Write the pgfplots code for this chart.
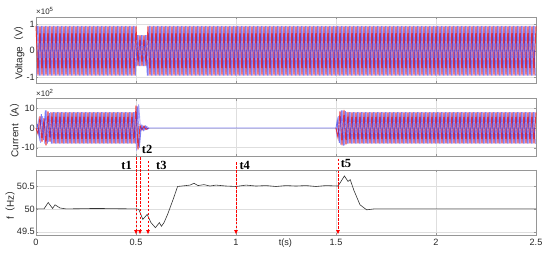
\documentclass[border=0pt]{standalone}
\usepackage{fontspec}
\setmainfont{Liberation Sans}
\newfontfamily\cjk{Noto Sans CJK SC}
\newfontfamily\tnr{Liberation Serif}
\usepackage{pgfplots}
\pgfplotsset{compat=1.18}
\usetikzlibrary{arrows.meta}

\definecolor{phA}{RGB}{235,35,35}
\definecolor{phB}{RGB}{40,40,235}
\definecolor{phC}{RGB}{155,145,245}
\definecolor{gridgray}{RGB}{222,222,222}
\definecolor{boxgray}{RGB}{150,150,150}
\definecolor{ticktext}{RGB}{40,40,40}

\pgfplotsset{
  wave/.style={
    scale only axis, width=500bp, xmin=0, xmax=2.5,
    xtick={0,0.5,1,1.5,2,2.5},
    xmajorgrids, ymajorgrids,
    grid style={gridgray, line width=0.5pt},
    axis line style={boxgray, line width=0.6pt},
    tick style={boxgray}, tick align=inside, major tick length=2.5pt,
    tick label style={font=\fontsize{9.2}{10}\selectfont, text=ticktext},
    /pgf/number format/assume math mode=true,
    yticklabel style={inner sep=1pt},
    xticklabel style={inner sep=4pt},
    ylabel style={font=\fontsize{10}{12}\selectfont, text=ticktext, inner sep=1pt},
    clip=false,
  },
  phc/.style={line width=0.9pt, opacity=0.85, phC},
  pha/.style={line width=0.9pt, opacity=0.9, phA},
  phb/.style={line width=0.9pt, opacity=0.6, phB},
}
\tikzset{
  tarrow/.style={draw=red, color=red, dash pattern=on 2.5pt off 1.5pt, line width=0.9pt, -{Latex[length=4.5bp,width=4bp]}},
  tlab/.style={inner sep=1pt, font=\tnr\bfseries\fontsize{12.5}{14}\selectfont},
}

\begin{document}
\begin{tikzpicture}
\path[use as bounding box] (0,0) rectangle (550bp,254bp);

% voltage
\begin{axis}[wave, at={(36bp,171bp)}, anchor=south west, height=66bp,
  ymin=-1.21, ymax=1.26, ytick={-1,0,1}, xticklabels={},
  ylabel={Voltage{\cjk （}V{\cjk ）}}]
\addplot[phc] coordinates {
(.0033,-.93)(.0133,.93)(.0233,-.93)(.0333,.93)(.0433,-.93)(.0533,.93)(.0633,-.93)(.0733,.93)(.0833,-.93)(.0933,.93)
(.1033,-.93)(.1133,.93)(.1233,-.93)(.1333,.93)(.1433,-.93)(.1533,.93)(.1633,-.93)(.1733,.93)(.1833,-.93)(.1933,.93)
(.2033,-.93)(.2133,.93)(.2233,-.93)(.2333,.93)(.2433,-.93)(.2533,.93)(.2633,-.93)(.2733,.93)(.2833,-.93)(.2933,.93)
(.3033,-.93)(.3133,.93)(.3233,-.93)(.3333,.93)(.3433,-.93)(.3533,.93)(.3633,-.93)(.3733,.93)(.3833,-.93)(.3933,.93)
(.4033,-.93)(.4133,.93)(.4233,-.93)(.4333,.93)(.4433,-.93)(.4533,.93)(.4633,-.93)(.4733,.93)(.4833,-.93)(.4933,.93)
(.5033,-.58)(.5133,.58)(.5233,-.58)(.5333,.58)(.5433,-.58)(.5533,.58)(.5633,-.93)(.5733,.93)(.5833,-.93)(.5933,.93)
(.6033,-.93)(.6133,.93)(.6233,-.93)(.6333,.93)(.6433,-.93)(.6533,.93)(.6633,-.93)(.6733,.93)(.6833,-.93)(.6933,.93)
(.7033,-.93)(.7133,.93)(.7233,-.93)(.7333,.93)(.7433,-.93)(.7533,.93)(.7633,-.93)(.7733,.93)(.7833,-.93)(.7933,.93)
(.8033,-.93)(.8133,.93)(.8233,-.93)(.8333,.93)(.8433,-.93)(.8533,.93)(.8633,-.93)(.8733,.93)(.8833,-.93)(.8933,.93)
(.9033,-.93)(.9133,.93)(.9233,-.93)(.9333,.93)(.9433,-.93)(.9533,.93)(.9633,-.93)(.9733,.93)(.9833,-.93)(.9933,.93)
(1.0033,-.93)(1.0133,.93)(1.0233,-.93)(1.0333,.93)(1.0433,-.93)(1.0533,.93)(1.0633,-.93)(1.0733,.93)(1.0833,-.93)(1.0933,.93)
(1.1033,-.93)(1.1133,.93)(1.1233,-.93)(1.1333,.93)(1.1433,-.93)(1.1533,.93)(1.1633,-.93)(1.1733,.93)(1.1833,-.93)(1.1933,.93)
(1.2033,-.93)(1.2133,.93)(1.2233,-.93)(1.2333,.93)(1.2433,-.93)(1.2533,.93)(1.2633,-.93)(1.2733,.93)(1.2833,-.93)(1.2933,.93)
(1.3033,-.93)(1.3133,.93)(1.3233,-.93)(1.3333,.93)(1.3433,-.93)(1.3533,.93)(1.3633,-.93)(1.3733,.93)(1.3833,-.93)(1.3933,.93)
(1.4033,-.93)(1.4133,.93)(1.4233,-.93)(1.4333,.93)(1.4433,-.93)(1.4533,.93)(1.4633,-.93)(1.4733,.93)(1.4833,-.93)(1.4933,.93)
(1.5033,-.93)(1.5133,.93)(1.5233,-.93)(1.5333,.93)(1.5433,-.93)(1.5533,.93)(1.5633,-.93)(1.5733,.93)(1.5833,-.93)(1.5933,.93)
(1.6033,-.93)(1.6133,.93)(1.6233,-.93)(1.6333,.93)(1.6433,-.93)(1.6533,.93)(1.6633,-.93)(1.6733,.93)(1.6833,-.93)(1.6933,.93)
(1.7033,-.93)(1.7133,.93)(1.7233,-.93)(1.7333,.93)(1.7433,-.93)(1.7533,.93)(1.7633,-.93)(1.7733,.93)(1.7833,-.93)(1.7933,.93)
(1.8033,-.93)(1.8133,.93)(1.8233,-.93)(1.8333,.93)(1.8433,-.93)(1.8533,.93)(1.8633,-.93)(1.8733,.93)(1.8833,-.93)(1.8933,.93)
(1.9033,-.93)(1.9133,.93)(1.9233,-.93)(1.9333,.93)(1.9433,-.93)(1.9533,.93)(1.9633,-.93)(1.9733,.93)(1.9833,-.93)(1.9933,.93)
(2.0033,-.93)(2.0133,.93)(2.0233,-.93)(2.0333,.93)(2.0433,-.93)(2.0533,.93)(2.0633,-.93)(2.0733,.93)(2.0833,-.93)(2.0933,.93)
(2.1033,-.93)(2.1133,.93)(2.1233,-.93)(2.1333,.93)(2.1433,-.93)(2.1533,.93)(2.1633,-.93)(2.1733,.93)(2.1833,-.93)(2.1933,.93)
(2.2033,-.93)(2.2133,.93)(2.2233,-.93)(2.2333,.93)(2.2433,-.93)(2.2533,.93)(2.2633,-.93)(2.2733,.93)(2.2833,-.93)(2.2933,.93)
(2.3033,-.93)(2.3133,.93)(2.3233,-.93)(2.3333,.93)(2.3433,-.93)(2.3533,.93)(2.3633,-.93)(2.3733,.93)(2.3833,-.93)(2.3933,.93)
(2.4033,-.93)(2.4133,.93)(2.4233,-.93)(2.4333,.93)(2.4433,-.93)(2.4533,.93)(2.4633,-.93)(2.4733,.93)(2.4833,-.93)(2.4933,.93)
};
\addplot[pha] coordinates {
(0,.93)(.01,-.93)(.02,.93)(.03,-.93)(.04,.93)(.05,-.93)(.06,.93)(.07,-.93)(.08,.93)(.09,-.93)
(.1,.93)(.11,-.93)(.12,.93)(.13,-.93)(.14,.93)(.15,-.93)(.16,.93)(.17,-.93)(.18,.93)(.19,-.93)
(.2,.93)(.21,-.93)(.22,.93)(.23,-.93)(.24,.93)(.25,-.93)(.26,.93)(.27,-.93)(.28,.93)(.29,-.93)
(.3,.93)(.31,-.93)(.32,.93)(.33,-.93)(.34,.93)(.35,-.93)(.36,.93)(.37,-.93)(.38,.93)(.39,-.93)
(.4,.93)(.41,-.93)(.42,.93)(.43,-.93)(.44,.93)(.45,-.93)(.46,.93)(.47,-.93)(.48,.93)(.49,-.93)
(.5,.93)(.51,-.58)(.52,.58)(.53,-.58)(.54,.58)(.55,-.58)(.56,.93)(.57,-.93)(.58,.93)(.59,-.93)
(.6,.93)(.61,-.93)(.62,.93)(.63,-.93)(.64,.93)(.65,-.93)(.66,.93)(.67,-.93)(.68,.93)(.69,-.93)
(.7,.93)(.71,-.93)(.72,.93)(.73,-.93)(.74,.93)(.75,-.93)(.76,.93)(.77,-.93)(.78,.93)(.79,-.93)
(.8,.93)(.81,-.93)(.82,.93)(.83,-.93)(.84,.93)(.85,-.93)(.86,.93)(.87,-.93)(.88,.93)(.89,-.93)
(.9,.93)(.91,-.93)(.92,.93)(.93,-.93)(.94,.93)(.95,-.93)(.96,.93)(.97,-.93)(.98,.93)(.99,-.93)
(1,.93)(1.01,-.93)(1.02,.93)(1.03,-.93)(1.04,.93)(1.05,-.93)(1.06,.93)(1.07,-.93)(1.08,.93)(1.09,-.93)
(1.1,.93)(1.11,-.93)(1.12,.93)(1.13,-.93)(1.14,.93)(1.15,-.93)(1.16,.93)(1.17,-.93)(1.18,.93)(1.19,-.93)
(1.2,.93)(1.21,-.93)(1.22,.93)(1.23,-.93)(1.24,.93)(1.25,-.93)(1.26,.93)(1.27,-.93)(1.28,.93)(1.29,-.93)
(1.3,.93)(1.31,-.93)(1.32,.93)(1.33,-.93)(1.34,.93)(1.35,-.93)(1.36,.93)(1.37,-.93)(1.38,.93)(1.39,-.93)
(1.4,.93)(1.41,-.93)(1.42,.93)(1.43,-.93)(1.44,.93)(1.45,-.93)(1.46,.93)(1.47,-.93)(1.48,.93)(1.49,-.93)
(1.5,.93)(1.51,-.93)(1.52,.93)(1.53,-.93)(1.54,.93)(1.55,-.93)(1.56,.93)(1.57,-.93)(1.58,.93)(1.59,-.93)
(1.6,.93)(1.61,-.93)(1.62,.93)(1.63,-.93)(1.64,.93)(1.65,-.93)(1.66,.93)(1.67,-.93)(1.68,.93)(1.69,-.93)
(1.7,.93)(1.71,-.93)(1.72,.93)(1.73,-.93)(1.74,.93)(1.75,-.93)(1.76,.93)(1.77,-.93)(1.78,.93)(1.79,-.93)
(1.8,.93)(1.81,-.93)(1.82,.93)(1.83,-.93)(1.84,.93)(1.85,-.93)(1.86,.93)(1.87,-.93)(1.88,.93)(1.89,-.93)
(1.9,.93)(1.91,-.93)(1.92,.93)(1.93,-.93)(1.94,.93)(1.95,-.93)(1.96,.93)(1.97,-.93)(1.98,.93)(1.99,-.93)
(2,.93)(2.01,-.93)(2.02,.93)(2.03,-.93)(2.04,.93)(2.05,-.93)(2.06,.93)(2.07,-.93)(2.08,.93)(2.09,-.93)
(2.1,.93)(2.11,-.93)(2.12,.93)(2.13,-.93)(2.14,.93)(2.15,-.93)(2.16,.93)(2.17,-.93)(2.18,.93)(2.19,-.93)
(2.2,.93)(2.21,-.93)(2.22,.93)(2.23,-.93)(2.24,.93)(2.25,-.93)(2.26,.93)(2.27,-.93)(2.28,.93)(2.29,-.93)
(2.3,.93)(2.31,-.93)(2.32,.93)(2.33,-.93)(2.34,.93)(2.35,-.93)(2.36,.93)(2.37,-.93)(2.38,.93)(2.39,-.93)
(2.4,.93)(2.41,-.93)(2.42,.93)(2.43,-.93)(2.44,.93)(2.45,-.93)(2.46,.93)(2.47,-.93)(2.48,.93)(2.49,-.93)
(2.5,.93)
};
\addplot[phb] coordinates {
(.0067,.93)(.0167,-.93)(.0267,.93)(.0367,-.93)(.0467,.93)(.0567,-.93)(.0667,.93)(.0767,-.93)(.0867,.93)(.0967,-.93)
(.1067,.93)(.1167,-.93)(.1267,.93)(.1367,-.93)(.1467,.93)(.1567,-.93)(.1667,.93)(.1767,-.93)(.1867,.93)(.1967,-.93)
(.2067,.93)(.2167,-.93)(.2267,.93)(.2367,-.93)(.2467,.93)(.2567,-.93)(.2667,.93)(.2767,-.93)(.2867,.93)(.2967,-.93)
(.3067,.93)(.3167,-.93)(.3267,.93)(.3367,-.93)(.3467,.93)(.3567,-.93)(.3667,.93)(.3767,-.93)(.3867,.93)(.3967,-.93)
(.4067,.93)(.4167,-.93)(.4267,.93)(.4367,-.93)(.4467,.93)(.4567,-.93)(.4667,.93)(.4767,-.93)(.4867,.93)(.4967,-.93)
(.5067,.58)(.5167,-.58)(.5267,.58)(.5367,-.58)(.5467,.58)(.5567,-.93)(.5667,.93)(.5767,-.93)(.5867,.93)(.5967,-.93)
(.6067,.93)(.6167,-.93)(.6267,.93)(.6367,-.93)(.6467,.93)(.6567,-.93)(.6667,.93)(.6767,-.93)(.6867,.93)(.6967,-.93)
(.7067,.93)(.7167,-.93)(.7267,.93)(.7367,-.93)(.7467,.93)(.7567,-.93)(.7667,.93)(.7767,-.93)(.7867,.93)(.7967,-.93)
(.8067,.93)(.8167,-.93)(.8267,.93)(.8367,-.93)(.8467,.93)(.8567,-.93)(.8667,.93)(.8767,-.93)(.8867,.93)(.8967,-.93)
(.9067,.93)(.9167,-.93)(.9267,.93)(.9367,-.93)(.9467,.93)(.9567,-.93)(.9667,.93)(.9767,-.93)(.9867,.93)(.9967,-.93)
(1.0067,.93)(1.0167,-.93)(1.0267,.93)(1.0367,-.93)(1.0467,.93)(1.0567,-.93)(1.0667,.93)(1.0767,-.93)(1.0867,.93)(1.0967,-.93)
(1.1067,.93)(1.1167,-.93)(1.1267,.93)(1.1367,-.93)(1.1467,.93)(1.1567,-.93)(1.1667,.93)(1.1767,-.93)(1.1867,.93)(1.1967,-.93)
(1.2067,.93)(1.2167,-.93)(1.2267,.93)(1.2367,-.93)(1.2467,.93)(1.2567,-.93)(1.2667,.93)(1.2767,-.93)(1.2867,.93)(1.2967,-.93)
(1.3067,.93)(1.3167,-.93)(1.3267,.93)(1.3367,-.93)(1.3467,.93)(1.3567,-.93)(1.3667,.93)(1.3767,-.93)(1.3867,.93)(1.3967,-.93)
(1.4067,.93)(1.4167,-.93)(1.4267,.93)(1.4367,-.93)(1.4467,.93)(1.4567,-.93)(1.4667,.93)(1.4767,-.93)(1.4867,.93)(1.4967,-.93)
(1.5067,.93)(1.5167,-.93)(1.5267,.93)(1.5367,-.93)(1.5467,.93)(1.5567,-.93)(1.5667,.93)(1.5767,-.93)(1.5867,.93)(1.5967,-.93)
(1.6067,.93)(1.6167,-.93)(1.6267,.93)(1.6367,-.93)(1.6467,.93)(1.6567,-.93)(1.6667,.93)(1.6767,-.93)(1.6867,.93)(1.6967,-.93)
(1.7067,.93)(1.7167,-.93)(1.7267,.93)(1.7367,-.93)(1.7467,.93)(1.7567,-.93)(1.7667,.93)(1.7767,-.93)(1.7867,.93)(1.7967,-.93)
(1.8067,.93)(1.8167,-.93)(1.8267,.93)(1.8367,-.93)(1.8467,.93)(1.8567,-.93)(1.8667,.93)(1.8767,-.93)(1.8867,.93)(1.8967,-.93)
(1.9067,.93)(1.9167,-.93)(1.9267,.93)(1.9367,-.93)(1.9467,.93)(1.9567,-.93)(1.9667,.93)(1.9767,-.93)(1.9867,.93)(1.9967,-.93)
(2.0067,.93)(2.0167,-.93)(2.0267,.93)(2.0367,-.93)(2.0467,.93)(2.0567,-.93)(2.0667,.93)(2.0767,-.93)(2.0867,.93)(2.0967,-.93)
(2.1067,.93)(2.1167,-.93)(2.1267,.93)(2.1367,-.93)(2.1467,.93)(2.1567,-.93)(2.1667,.93)(2.1767,-.93)(2.1867,.93)(2.1967,-.93)
(2.2067,.93)(2.2167,-.93)(2.2267,.93)(2.2367,-.93)(2.2467,.93)(2.2567,-.93)(2.2667,.93)(2.2767,-.93)(2.2867,.93)(2.2967,-.93)
(2.3067,.93)(2.3167,-.93)(2.3267,.93)(2.3367,-.93)(2.3467,.93)(2.3567,-.93)(2.3667,.93)(2.3767,-.93)(2.3867,.93)(2.3967,-.93)
(2.4067,.93)(2.4167,-.93)(2.4267,.93)(2.4367,-.93)(2.4467,.93)(2.4567,-.93)(2.4667,.93)(2.4767,-.93)(2.4867,.93)(2.4967,-.93)
};
\node[anchor=south west, inner sep=0pt, font=\fontsize{8}{9}\selectfont, text=ticktext] at (rel axis cs:0,1) [yshift=2bp] {×10\textsuperscript{5}};
\end{axis}

% current
\begin{axis}[wave, at={(36bp,97.7bp)}, anchor=south west, height=58bp,
  ymin=-14.4, ymax=15.1, ytick={-10,0,10}, xticklabels={},
  ylabel={Current{\cjk （}A{\cjk ）}}]
\addplot[phc] coordinates {
(.0033,-1)(.0133,4)(.0233,-7.5)(.0333,6)(.0433,-8)(.0533,9)(.0633,-7)(.0733,8)(.0833,-8)(.0933,8)
(.1033,-8)(.1133,8)(.1233,-8)(.1333,8)(.1433,-8)(.1533,8)(.1633,-8)(.1733,8)(.1833,-8)(.1933,8)
(.2033,-8)(.2133,8)(.2233,-8)(.2333,8)(.2433,-8)(.2533,8)(.2633,-8)(.2733,8)(.2833,-8)(.2933,8)
(.3033,-8)(.3133,8)(.3233,-8)(.3333,8)(.3433,-8)(.3533,8)(.3633,-8)(.3733,8)(.3833,-8)(.3933,8)
(.4033,-8)(.4133,8)(.4233,-8)(.4333,8)(.4433,-8)(.4533,8)(.4633,-8)(.4733,8)(.4833,-8)(.4933,8)
(.5033,-11.5)(.5133,12)(.5233,-1.5)(.5333,1.2)(.5433,-1)(.5533,.8)(.5633,0)
};
\addplot[phc] coordinates {
(1.5,0)(1.5033,-3)(1.5133,6)(1.5233,-8.5)(1.5333,9)(1.5433,-8.8)(1.5533,8)(1.5633,-8)(1.5733,8)(1.5833,-8)(1.5933,8)
(1.6033,-8)(1.6133,8)(1.6233,-8)(1.6333,8)(1.6433,-8)(1.6533,8)(1.6633,-8)(1.6733,8)(1.6833,-8)(1.6933,8)
(1.7033,-8)(1.7133,8)(1.7233,-8)(1.7333,8)(1.7433,-8)(1.7533,8)(1.7633,-8)(1.7733,8)(1.7833,-8)(1.7933,8)
(1.8033,-8)(1.8133,8)(1.8233,-8)(1.8333,8)(1.8433,-8)(1.8533,8)(1.8633,-8)(1.8733,8)(1.8833,-8)(1.8933,8)
(1.9033,-8)(1.9133,8)(1.9233,-8)(1.9333,8)(1.9433,-8)(1.9533,8)(1.9633,-8)(1.9733,8)(1.9833,-8)(1.9933,8)
(2.0033,-8)(2.0133,8)(2.0233,-8)(2.0333,8)(2.0433,-8)(2.0533,8)(2.0633,-8)(2.0733,8)(2.0833,-8)(2.0933,8)
(2.1033,-8)(2.1133,8)(2.1233,-8)(2.1333,8)(2.1433,-8)(2.1533,8)(2.1633,-8)(2.1733,8)(2.1833,-8)(2.1933,8)
(2.2033,-8)(2.2133,8)(2.2233,-8)(2.2333,8)(2.2433,-8)(2.2533,8)(2.2633,-8)(2.2733,8)(2.2833,-8)(2.2933,8)
(2.3033,-8)(2.3133,8)(2.3233,-8)(2.3333,8)(2.3433,-8)(2.3533,8)(2.3633,-8)(2.3733,8)(2.3833,-8)(2.3933,8)
(2.4033,-8)(2.4133,8)(2.4233,-8)(2.4333,8)(2.4433,-8)(2.4533,8)(2.4633,-8)(2.4733,8)(2.4833,-8)(2.4933,8)
};
\addplot[pha] coordinates {
(0,0)(.01,-3)(.02,6)(.03,-7)(.04,5)(.05,-9)(.06,8.5)(.07,-7)(.08,8)(.09,-8)
(.1,8)(.11,-8)(.12,8)(.13,-8)(.14,8)(.15,-8)(.16,8)(.17,-8)(.18,8)(.19,-8)
(.2,8)(.21,-8)(.22,8)(.23,-8)(.24,8)(.25,-8)(.26,8)(.27,-8)(.28,8)(.29,-8)
(.3,8)(.31,-8)(.32,8)(.33,-8)(.34,8)(.35,-8)(.36,8)(.37,-8)(.38,8)(.39,-8)
(.4,8)(.41,-8)(.42,8)(.43,-8)(.44,8)(.45,-8)(.46,8)(.47,-8)(.48,8)(.49,-8)
(.5,11.5)(.51,-11)(.52,1.2)(.53,-1)(.54,1)(.55,-.8)(.56,0)
};
\addplot[pha] coordinates {
(1.5,0)(1.51,-5)(1.52,8.5)(1.53,-8.8)(1.54,9.2)(1.55,-8.5)(1.56,8.2)(1.57,-8)(1.58,8)(1.59,-8)
(1.6,8)(1.61,-8)(1.62,8)(1.63,-8)(1.64,8)(1.65,-8)(1.66,8)(1.67,-8)(1.68,8)(1.69,-8)
(1.7,8)(1.71,-8)(1.72,8)(1.73,-8)(1.74,8)(1.75,-8)(1.76,8)(1.77,-8)(1.78,8)(1.79,-8)
(1.8,8)(1.81,-8)(1.82,8)(1.83,-8)(1.84,8)(1.85,-8)(1.86,8)(1.87,-8)(1.88,8)(1.89,-8)
(1.9,8)(1.91,-8)(1.92,8)(1.93,-8)(1.94,8)(1.95,-8)(1.96,8)(1.97,-8)(1.98,8)(1.99,-8)
(2,8)(2.01,-8)(2.02,8)(2.03,-8)(2.04,8)(2.05,-8)(2.06,8)(2.07,-8)(2.08,8)(2.09,-8)
(2.1,8)(2.11,-8)(2.12,8)(2.13,-8)(2.14,8)(2.15,-8)(2.16,8)(2.17,-8)(2.18,8)(2.19,-8)
(2.2,8)(2.21,-8)(2.22,8)(2.23,-8)(2.24,8)(2.25,-8)(2.26,8)(2.27,-8)(2.28,8)(2.29,-8)
(2.3,8)(2.31,-8)(2.32,8)(2.33,-8)(2.34,8)(2.35,-8)(2.36,8)(2.37,-8)(2.38,8)(2.39,-8)
(2.4,8)(2.41,-8)(2.42,8)(2.43,-8)(2.44,8)(2.45,-8)(2.46,8)(2.47,-8)(2.48,8)(2.49,-8)
(2.5,8)
};
\addplot[phb] coordinates {
(.0067,2)(.0167,-5)(.0267,7)(.0367,-6)(.0467,9)(.0567,-8)(.0667,7.5)(.0767,-8)(.0867,8)(.0967,-8)
(.1067,8)(.1167,-8)(.1267,8)(.1367,-8)(.1467,8)(.1567,-8)(.1667,8)(.1767,-8)(.1867,8)(.1967,-8)
(.2067,8)(.2167,-8)(.2267,8)(.2367,-8)(.2467,8)(.2567,-8)(.2667,8)(.2767,-8)(.2867,8)(.2967,-8)
(.3067,8)(.3167,-8)(.3267,8)(.3367,-8)(.3467,8)(.3567,-8)(.3667,8)(.3767,-8)(.3867,8)(.3967,-8)
(.4067,8)(.4167,-8)(.4267,8)(.4367,-8)(.4467,8)(.4567,-8)(.4667,8)(.4767,-8)(.4867,8)(.4967,-8)
(.5067,11)(.5167,-10)(.5267,1.2)(.5367,-1.2)(.5467,1)(.5567,-.6)(.5667,0)(1.5,0)
(1.5067,4)(1.5167,-7.5)(1.5267,9)(1.5367,-9)(1.5467,8.5)(1.5567,-8)(1.5667,8)(1.5767,-8)(1.5867,8)(1.5967,-8)
(1.6067,8)(1.6167,-8)(1.6267,8)(1.6367,-8)(1.6467,8)(1.6567,-8)(1.6667,8)(1.6767,-8)(1.6867,8)(1.6967,-8)
(1.7067,8)(1.7167,-8)(1.7267,8)(1.7367,-8)(1.7467,8)(1.7567,-8)(1.7667,8)(1.7767,-8)(1.7867,8)(1.7967,-8)
(1.8067,8)(1.8167,-8)(1.8267,8)(1.8367,-8)(1.8467,8)(1.8567,-8)(1.8667,8)(1.8767,-8)(1.8867,8)(1.8967,-8)
(1.9067,8)(1.9167,-8)(1.9267,8)(1.9367,-8)(1.9467,8)(1.9567,-8)(1.9667,8)(1.9767,-8)(1.9867,8)(1.9967,-8)
(2.0067,8)(2.0167,-8)(2.0267,8)(2.0367,-8)(2.0467,8)(2.0567,-8)(2.0667,8)(2.0767,-8)(2.0867,8)(2.0967,-8)
(2.1067,8)(2.1167,-8)(2.1267,8)(2.1367,-8)(2.1467,8)(2.1567,-8)(2.1667,8)(2.1767,-8)(2.1867,8)(2.1967,-8)
(2.2067,8)(2.2167,-8)(2.2267,8)(2.2367,-8)(2.2467,8)(2.2567,-8)(2.2667,8)(2.2767,-8)(2.2867,8)(2.2967,-8)
(2.3067,8)(2.3167,-8)(2.3267,8)(2.3367,-8)(2.3467,8)(2.3567,-8)(2.3667,8)(2.3767,-8)(2.3867,8)(2.3967,-8)
(2.4067,8)(2.4167,-8)(2.4267,8)(2.4367,-8)(2.4467,8)(2.4567,-8)(2.4667,8)(2.4767,-8)(2.4867,8)(2.4967,-8)
};
\node[anchor=south west, inner sep=0pt, font=\fontsize{8}{9}\selectfont, text=ticktext] at (rel axis cs:0,1) [yshift=2bp] {×10\textsuperscript{2}};
\end{axis}

% frequency
\begin{axis}[wave, at={(36bp,19bp)}, anchor=south west, height=65bp,
  ymin=49.43, ymax=50.85, ytick={49.5,50,50.5},
  ylabel={f{\cjk （}Hz{\cjk ）}}]
\addplot[line width=0.6pt, black!80] coordinates {
(0,50)(0.04,50)(0.061,50.14)(0.083,50.01)(0.095,50.09)(0.12,50.02)(0.15,50)(0.3,50.01)(0.5,50)
(0.514,49.99)(0.534,49.77)(0.556,49.88)(0.575,49.7)(0.597,49.59)(0.617,49.7)(0.627,49.62)(0.64,49.7)
(0.658,49.88)(0.685,50.2)(0.708,50.49)(0.75,50.51)(0.77,50.52)(0.79,50.56)(0.81,50.51)(0.84,50.53)
(0.87,50.5)(0.9,50.52)(0.95,50.5)(1.0,50.49)(1.05,50.52)(1.1,50.5)(1.15,50.51)(1.2,50.49)(1.25,50.51)
(1.3,50.5)(1.35,50.51)(1.4,50.49)(1.45,50.51)(1.51,50.5)(1.525,50.6)(1.542,50.72)(1.56,50.6)
(1.571,50.64)(1.59,50.4)(1.62,50.09)(1.653,49.98)(1.69,50.0)(2.0,50)(2.5,50)
};
\addplot[tarrow] coordinates {(0.5,51.13)(0.5,49.44)};
\addplot[tarrow] coordinates {(0.52,51.13)(0.52,49.44)};
\addplot[tarrow] coordinates {(0.56,51.05)(0.56,49.44)};
\addplot[tarrow] coordinates {(1.0,51.02)(1.0,49.44)};
\addplot[tarrow] coordinates {(1.51,51.1)(1.51,49.44)};
\node[tlab, anchor=east] at (axis cs:0.485,50.96) {t1};
\node[tlab, anchor=west] at (axis cs:0.524,51.29) {t2};
\node[tlab, anchor=west] at (axis cs:0.595,50.96) {t3};
\node[tlab, anchor=west] at (axis cs:1.012,50.96) {t4};
\node[tlab, anchor=west] at (axis cs:1.518,51.0) {t5};
\node[anchor=north, inner sep=4pt, font=\fontsize{9.2}{10}\selectfont, text=ticktext] at (axis cs:1.247,49.43) {t(s)};
\end{axis}
\end{tikzpicture}
\end{document}
